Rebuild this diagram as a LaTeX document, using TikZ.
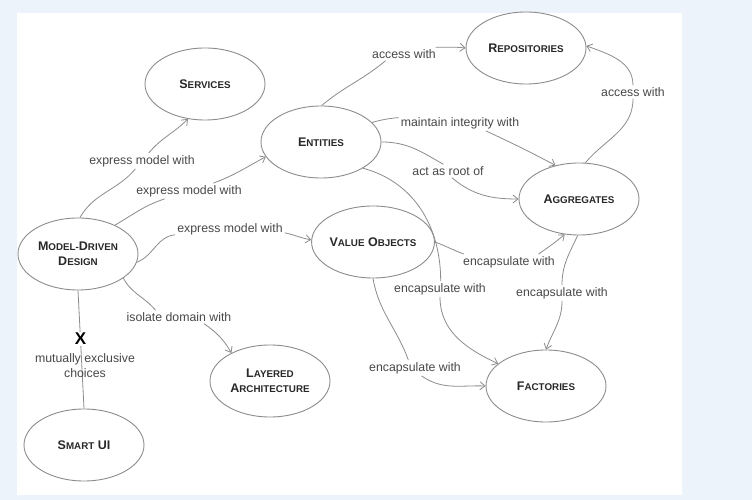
\documentclass[tikz,border=0pt]{standalone}
\usepackage{fontspec}
\setmainfont{Liberation Sans}
\usetikzlibrary{arrows.meta,shapes.geometric}
\definecolor{bgblue}{RGB}{237,243,251}
\definecolor{edgegray}{RGB}{140,140,140}
\definecolor{labelgray}{RGB}{72,72,72}
\definecolor{conceptink}{RGB}{40,40,40}
\newcommand\smcap[2]{{\fontsize{12.5}{15}\selectfont #1}{\fontsize{9.8}{15}\selectfont #2}}
\tikzset{
  concept/.style={ellipse, draw=edgegray, line width=0.9pt, minimum width=120pt,
    minimum height=72pt, inner sep=0pt, align=center, font=\bfseries\fontsize{12.5}{15}\selectfont,
    text=conceptink},
  rel/.style={fill=white, inner sep=2pt, text=labelgray, align=center,
    font=\fontsize{12.3}{15}\selectfont},
  xmark/.style={fill=white, inner sep=1pt, text=black, font=\bfseries\fontsize{17}{17}\selectfont},
}
\begin{document}
\begin{tikzpicture}[x=1pt,y=1pt]
  \useasboundingbox[fill=bgblue] (0,0) rectangle (752,500);
  \fill[white] (17,5) rectangle (682,487);
  \draw
    (205,416) node[concept] (services){\smcap{S}{ERVICES}}
    (321,358) node[concept] (entities){\smcap{E}{NTITIES}}
    (526,452) node[concept] (repos){\smcap{R}{EPOSITORIES}}
    (579,301) node[concept] (aggr){\smcap{A}{GGREGATES}}
    (78,246) node[concept] (mdd){\smcap{M}{ODEL-}\smcap{D}{RIVEN}\\\smcap{D}{ESIGN}}
    (373,258) node[concept] (value){\smcap{V}{ALUE} \smcap{O}{BJECTS}}
    (270,119) node[concept] (layered){\smcap{L}{AYERED}\\\smcap{A}{RCHITECTURE}}
    (84,55) node[concept] (smartui){\smcap{S}{MART} \smcap{UI}{}}
    (546,114) node[concept] (factories){\smcap{F}{ACTORIES}};
  \path
    (142,339) node[rel] (modelserv){express model with}
    (189,309) node[rel] (modelent){express model with}
    (230,271) node[rel] (modelval){express model with}
    (179,183) node[rel] (isolate){isolate domain with}
    (404,446) node[rel] (accessent){access with}
    (633,408) node[rel] (accessagg){access with}
    (460,377) node[rel] (integrity){maintain integrity with}
    (448,329) node[rel] (root){act as root of}
    (440,211) node[rel] (encent){encapsulate with}
    (415,132) node[rel] (encval){encapsulate with}
    (509,238) node[rel] (encvalagg){encapsulate with}
    (562,207) node[rel] (encagg){encapsulate with};
  \begin{scope}[->, >={Straight Barb[length=5pt,width=8pt]}, draw=edgegray, line width=0.8pt]
    \draw (mdd.87) to[out=60,in=-130] (modelserv) to[out=50,in=-135] (services.-116);
    \draw (mdd.38) to[out=30,in=-162] (modelent) (modelent.18) to[out=20,in=-152] (entities.-165);
    \draw (mdd.-8) to[out=22,in=-174] (modelval) (modelval.-4) to[out=-12,in=170] (value.178);
    \draw (mdd.-28) to[out=-62,in=130] (isolate.164) (isolate.-15) to[out=-35,in=120] (layered.144);
    \draw[-] (mdd.south) -- node[xmark,pos=0.41] (choice){X} (smartui.north);
    \draw (entities.89) to[out=40,in=-140] (accessent.-160) (accessent.12) to[out=0,in=174] (repos.180);
    \draw (aggr.80) to[out=50,in=-90] (accessagg) to[out=90,in=-20] (repos.2);
    \draw (entities.21) to[out=15,in=-175] (integrity.175) (integrity.-17) to[out=-25,in=152] (aggr.125);
    \draw (entities.east) to[out=0,in=150] (root.125) (root.-60) to[out=-40,in=180] (aggr.west);
    \draw (entities.-32) to[out=-15,in=90] (encent.85) (encent.south) to[out=-90,in=155] (factories.155);
    \draw (value.south) to[out=-80,in=110] (encval.130) (encval.-50) to[out=-35,in=178] (factories.west);
    \draw (value.east) to[out=-20,in=160] (encvalagg.170) (encvalagg.15) to[out=35,in=-140] (aggr.-112);
    \draw (aggr.-92) to[out=-115,in=90] (encagg) to[out=-90,in=70] (factories.north);
  \end{scope}
  \node[rel, fill=none] (exclusive) at (85,134) {mutually exclusive\\choices};
\end{tikzpicture}
\end{document}
